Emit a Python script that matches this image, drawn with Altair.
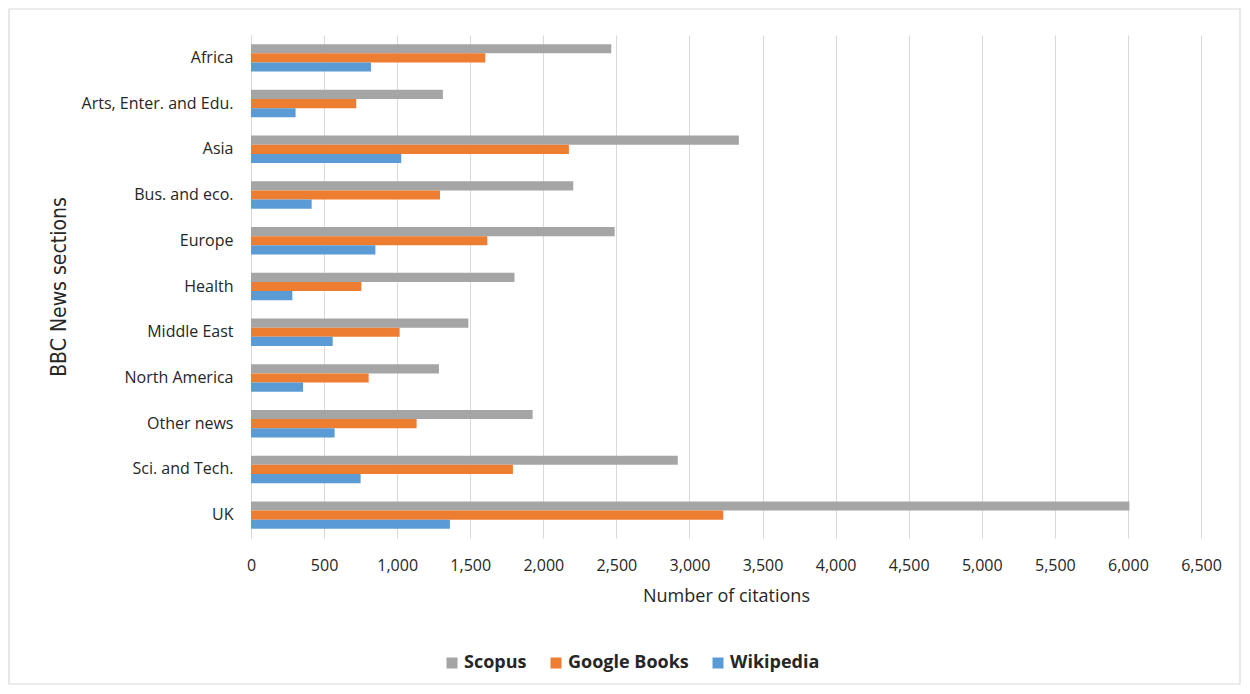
import altair as alt
import pandas as pd

categories = ["Africa", "Arts, Enter. and Edu.", "Asia\u00a0", "Bus. and eco.\u00a0", "Europe",
              "Health", "Middle East", "North America", "Other news", "Sci. and Tech.", "UK"]
series = ["Scopus", "Google Books", "Wikipedia"]
scopus = [2465, 1313, 3338, 2205, 2488, 1803, 1487, 1286, 1927, 2920, 6010]
google_books = [1603, 720, 2175, 1293, 1617, 755, 1017, 805, 1133, 1792, 3231]
wikipedia = [821, 305, 1028, 415, 851, 283, 559, 356, 572, 750, 1361]
colors = ["#a5a5a5", "#ed7d31", "#5b9bd5"]
x_ticks = list(range(0, 6501, 500))

rows = []
for name, vals in zip(series, [scopus, google_books, wikipedia]):
    for c, v in zip(categories, vals):
        rows.append({"category": c, "series": name, "value": v})
df = pd.DataFrame(rows)

W, H = 950, 503
PL, PT, PR, PB = 243, 27, 41, 148

bars = alt.Chart(df).mark_bar().encode(
    y=alt.Y("category:N", sort=categories,
            scale=alt.Scale(paddingInner=0.4, paddingOuter=0.2),
            axis=alt.Axis(title="BBC News sections", labelFont="Open Sans", labelFontSize=16,
                          labelColor="#262626", labelPadding=18, ticks=False,
                          domainColor="#d9d9d9", titleFont="DejaVu Sans Condensed",
                          titleFontSize=21, titleFontWeight="normal", titleColor="#262626",
                          titlePadding=12)),
    yOffset=alt.YOffset("series:N", sort=series, scale=alt.Scale(paddingInner=0, paddingOuter=0)),
    x=alt.X("value:Q", scale=alt.Scale(domain=[0, 6500], nice=False),
            axis=alt.Axis(values=x_ticks, format=",.0f", grid=True, gridColor="#d9d9d9",
                          domain=False, ticks=False, labelPadding=19, labelFont="Open Sans",
                          labelFontSize=16, labelColor="#262626", labelFlush=False,
                          title="Number of citations", titleFont="Open Sans", titleFontSize=18,
                          titleFontWeight="normal", titleColor="#262626", titlePadding=14)),
    color=alt.Color("series:N", sort=series,
                    scale=alt.Scale(domain=series, range=colors),
                    legend=alt.Legend(title=None, orient="none", direction="horizontal",
                                      legendX=192, legendY=619, symbolType="square",
                                      symbolSize=121, symbolStrokeWidth=0,
                                      labelFont="Open Sans", labelFontSize=18,
                                      labelFontWeight="bold", labelColor="#262626",
                                      labelOffset=3, columnPadding=20)),
)

frame = alt.Chart(alt.Data(values=[{"a": 1}])).mark_rect(
    fill="transparent", stroke="#d9d9d9", strokeWidth=1.2
).encode(
    x=alt.value(-242), x2=alt.value(W + PR - 2),
    y=alt.value(-26), y2=alt.value(H + PB - 2),
)

chart = alt.layer(frame, bars).properties(
    width=W, height=H,
    autosize=alt.AutoSizeParams(type="none"),
    padding={"left": PL, "top": PT, "right": PR, "bottom": PB},
    background="white",
).configure_view(stroke=None)

chart.save("out.html", embed_options={"renderer": "svg", "actions": False})
